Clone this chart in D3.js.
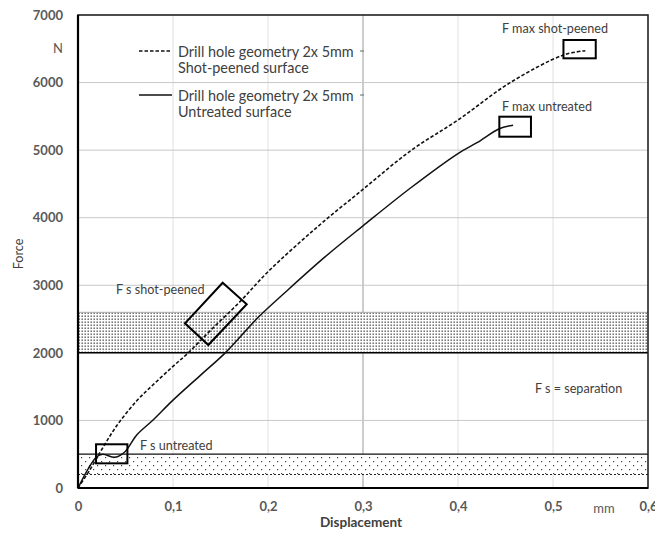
<!DOCTYPE html>
<html><head><meta charset="utf-8">
<script src="https://cdn.jsdelivr.net/npm/d3@7"></script>
<style>
html,body{margin:0;padding:0;background:#fff;}
svg{display:block;font-family:Lato,"Open Sans",sans-serif;}
</style></head>
<body><svg id="c" width="668" height="536"></svg>
<script>
// ---- data ----
const xTicks = [0, 0.1, 0.2, 0.3, 0.4, 0.5, 0.6];
const yTicks = [0, 1000, 2000, 3000, 4000, 5000, 6000, 7000];
const xTickLabels = ["0", "0,1", "0,2", "0,3", "0,4", "0,5", "0,6"];

const dispShot  = [0, 0.0126, 0.025, 0.0407, 0.0618, 0.08, 0.1, 0.116, 0.14, 0.17, 0.2, 0.25, 0.3, 0.351, 0.4, 0.455, 0.511, 0.534];
const forceShot = [0, 270, 570, 920, 1290, 1540, 1800, 2000, 2340, 2750, 3200, 3840, 4420, 5000, 5446, 6000, 6408, 6472];

const dispUnt  = [0, 0.011, 0.0197, 0.026, 0.039, 0.0495, 0.0618, 0.079, 0.1, 0.13, 0.155, 0.19, 0.22, 0.26, 0.3, 0.35, 0.4, 0.42, 0.444, 0.458];
const forceUnt = [0, 291, 463, 499, 454, 537, 784, 1006, 1300, 1682, 2000, 2530, 2920, 3420, 3880, 4440, 4950, 5110, 5320, 5370];

const legendLabels = [["Drill hole geometry 2x 5mm", "Shot-peened surface"], ["Drill hole geometry 2x 5mm", "Untreated surface"]];

// separation bands [low, high] in N
const bandShot = [2000, 2600];
const bandUnt  = [200, 500];

// annotation boxes (data units)
const boxUnt  = [0.019, 0.052, 365, 647];
const boxMaxShot = [0.511, 0.545, 6359, 6630];
const boxMaxUnt  = [0.4435, 0.4768, 5199, 5495];
const boxShotPoly = [[0.1523, 3038], [0.1776, 2719], [0.1372, 2116], [0.1126, 2437]];

// ---- drawing ----
const svg = d3.select("#c");
const x = d3.scaleLinear().domain([0, 0.6]).range([78, 648]);
const y = d3.scaleLinear().domain([0, 7000]).range([488, 15]);

const defs = svg.append("defs");
const pd = defs.append("pattern").attr("id", "dense").attr("patternUnits", "userSpaceOnUse")
  .attr("width", 3).attr("height", 3);
pd.append("rect").attr("width", 3).attr("height", 3).attr("fill", "#fff");
pd.append("rect").attr("x", 0.5).attr("y", 0.5).attr("width", 1.4).attr("height", 1.4).attr("fill", "#555");
const ps = defs.append("pattern").attr("id", "sparse").attr("patternUnits", "userSpaceOnUse")
  .attr("width", 8).attr("height", 8);
ps.append("rect").attr("width", 8).attr("height", 8).attr("fill", "#fff");
ps.append("rect").attr("x", 1).attr("y", 1).attr("width", 1.2).attr("height", 1.2).attr("fill", "#444");
ps.append("rect").attr("x", 5).attr("y", 5).attr("width", 1.2).attr("height", 1.2).attr("fill", "#444");
defs.append("clipPath").attr("id", "pageclip").append("rect").attr("x", 0).attr("y", 0).attr("width", 655).attr("height", 536);

const g = svg.append("g").attr("clip-path", "url(#pageclip)");

// gridlines
g.append("g").selectAll("line").data(xTicks.slice(1, -1)).join("line")
  .attr("x1", d => x(d)).attr("x2", d => x(d)).attr("y1", y(7000)).attr("y2", y(0))
  .attr("stroke", d => d === 0.3 ? "#9a9a9a" : "#e0e0e0").attr("stroke-width", 1);
g.append("g").selectAll("line").data(yTicks.slice(1, -1)).join("line")
  .attr("x1", x(0)).attr("x2", x(0.6)).attr("y1", d => y(d)).attr("y2", d => y(d))
  .attr("stroke", "#c8c8c8").attr("stroke-width", 1);

// bands
g.append("rect").attr("x", x(0)).attr("width", x(0.6) - x(0))
  .attr("y", y(bandShot[1])).attr("height", y(bandShot[0]) - y(bandShot[1]))
  .attr("fill", "url(#dense)");
g.append("line").attr("x1", x(0)).attr("x2", x(0.6)).attr("y1", y(bandShot[1])).attr("y2", y(bandShot[1]))
  .attr("stroke", "#aaa").attr("stroke-width", 1);
g.append("line").attr("x1", x(0)).attr("x2", x(0.6)).attr("y1", y(bandShot[0])).attr("y2", y(bandShot[0]))
  .attr("stroke", "#000").attr("stroke-width", 1.5);
g.append("rect").attr("x", x(0)).attr("width", x(0.6) - x(0))
  .attr("y", y(bandUnt[1])).attr("height", y(bandUnt[0]) - y(bandUnt[1]))
  .attr("fill", "url(#sparse)");
g.append("line").attr("x1", x(0)).attr("x2", x(0.6)).attr("y1", y(bandUnt[1])).attr("y2", y(bandUnt[1]))
  .attr("stroke", "#111").attr("stroke-width", 1.2);
g.append("line").attr("x1", x(0)).attr("x2", x(0.6)).attr("y1", y(bandUnt[0])).attr("y2", y(bandUnt[0]))
  .attr("stroke", "#222").attr("stroke-width", 1.2).attr("stroke-dasharray", "2,2");

// curves
const line = d3.line().x(d => x(d[0])).y(d => y(d[1])).curve(d3.curveCatmullRom.alpha(0.5));
g.append("path").datum(d3.zip(dispShot, forceShot)).attr("d", line)
  .attr("fill", "none").attr("stroke", "#111").attr("stroke-width", 1.6).attr("stroke-dasharray", "3.5,2");
g.append("path").datum(d3.zip(dispUnt, forceUnt)).attr("d", line)
  .attr("fill", "none").attr("stroke", "#111").attr("stroke-width", 1.5);

// annotation boxes
[boxUnt, boxMaxShot, boxMaxUnt].forEach(b => {
  g.append("rect").attr("x", x(b[0])).attr("y", y(b[3]))
    .attr("width", x(b[1]) - x(b[0])).attr("height", y(b[2]) - y(b[3]))
    .attr("fill", "none").attr("stroke", "#000").attr("stroke-width", 2);
});
g.append("polygon").attr("points", boxShotPoly.map(p => [x(p[0]), y(p[1])].join(",")).join(" "))
  .attr("fill", "none").attr("stroke", "#000").attr("stroke-width", 2);

// plot border
g.append("rect").attr("x", x(0)).attr("y", y(7000)).attr("width", x(0.6) - x(0)).attr("height", y(0) - y(7000))
  .attr("fill", "none").attr("stroke", "#222").attr("stroke-width", 1.6);
g.append("line").attr("x1", x(0)).attr("x2", x(0)).attr("y1", y(7000)).attr("y2", y(0)).attr("stroke", "#000").attr("stroke-width", 2.2);
g.append("line").attr("x1", x(0)).attr("x2", x(0.6)).attr("y1", y(0)).attr("y2", y(0)).attr("stroke", "#000").attr("stroke-width", 2.2);

// axes
const fmt = d => xTickLabels[xTicks.indexOf(d)];
const xa = g.append("g").attr("transform", `translate(0,${y(0)})`)
  .call(d3.axisBottom(x).tickValues(xTicks).tickFormat(fmt).tickSize(0).tickPadding(14));
const ya = g.append("g").attr("transform", `translate(${x(0)},0)`)
  .call(d3.axisLeft(y).tickValues(yTicks).tickFormat(d => String(d)).tickSize(0).tickPadding(15));
[xa, ya].forEach(a => {
  a.select(".domain").remove();
  a.selectAll("text").attr("font-family", "Lato").attr("font-size", 13).attr("font-weight", "bold").attr("fill", "#595959");
});

// units and titles
const txt = (t, tx, ty, opts = {}) => g.append("text").text(t).attr("x", tx).attr("y", ty)
  .attr("font-size", opts.size || 12.6).attr("fill", opts.fill || "#404040")
  .attr("font-weight", opts.weight || "normal").attr("text-anchor", opts.anchor || "start")
  .attr("dominant-baseline", "central");
txt("N", 63, 48, {size: 13, anchor: "end", fill: "#595959"});
txt("mm", 604, 508, {size: 13, anchor: "middle", fill: "#595959"});
txt("Displacement", 361, 522, {size: 13.5, anchor: "middle", weight: "bold", fill: "#404040"});
g.append("text").text("Force").attr("transform", "translate(18,254) rotate(-90)")
  .attr("text-anchor", "middle").attr("dominant-baseline", "central")
  .attr("font-size", 12.6).attr("fill", "#404040");

// annotations
txt("F max shot-peened", 502, 28);
txt("F max untreated", 502, 106);
txt("F s shot-peened", 116, 289);
txt("F s untreated", 140, 445);
txt("F s = separation", 535, 388);

// legend
const legY = [51, 95];
legendLabels.forEach((lab, i) => {
  const ly = legY[i];
  g.append("line").attr("x1", 139).attr("x2", 172).attr("y1", ly).attr("y2", ly)
    .attr("stroke", "#111").attr("stroke-width", 1.6).attr("stroke-dasharray", i === 0 ? "3.5,2" : null);
  g.append("line").attr("x1", 360).attr("x2", 364).attr("y1", ly).attr("y2", ly)
    .attr("stroke", "#666").attr("stroke-width", 1);
  txt(lab[0], 178, ly, {size: 14.4});
  txt(lab[1], 178, ly + 16, {size: 14.4});
});
</script></body></html>
